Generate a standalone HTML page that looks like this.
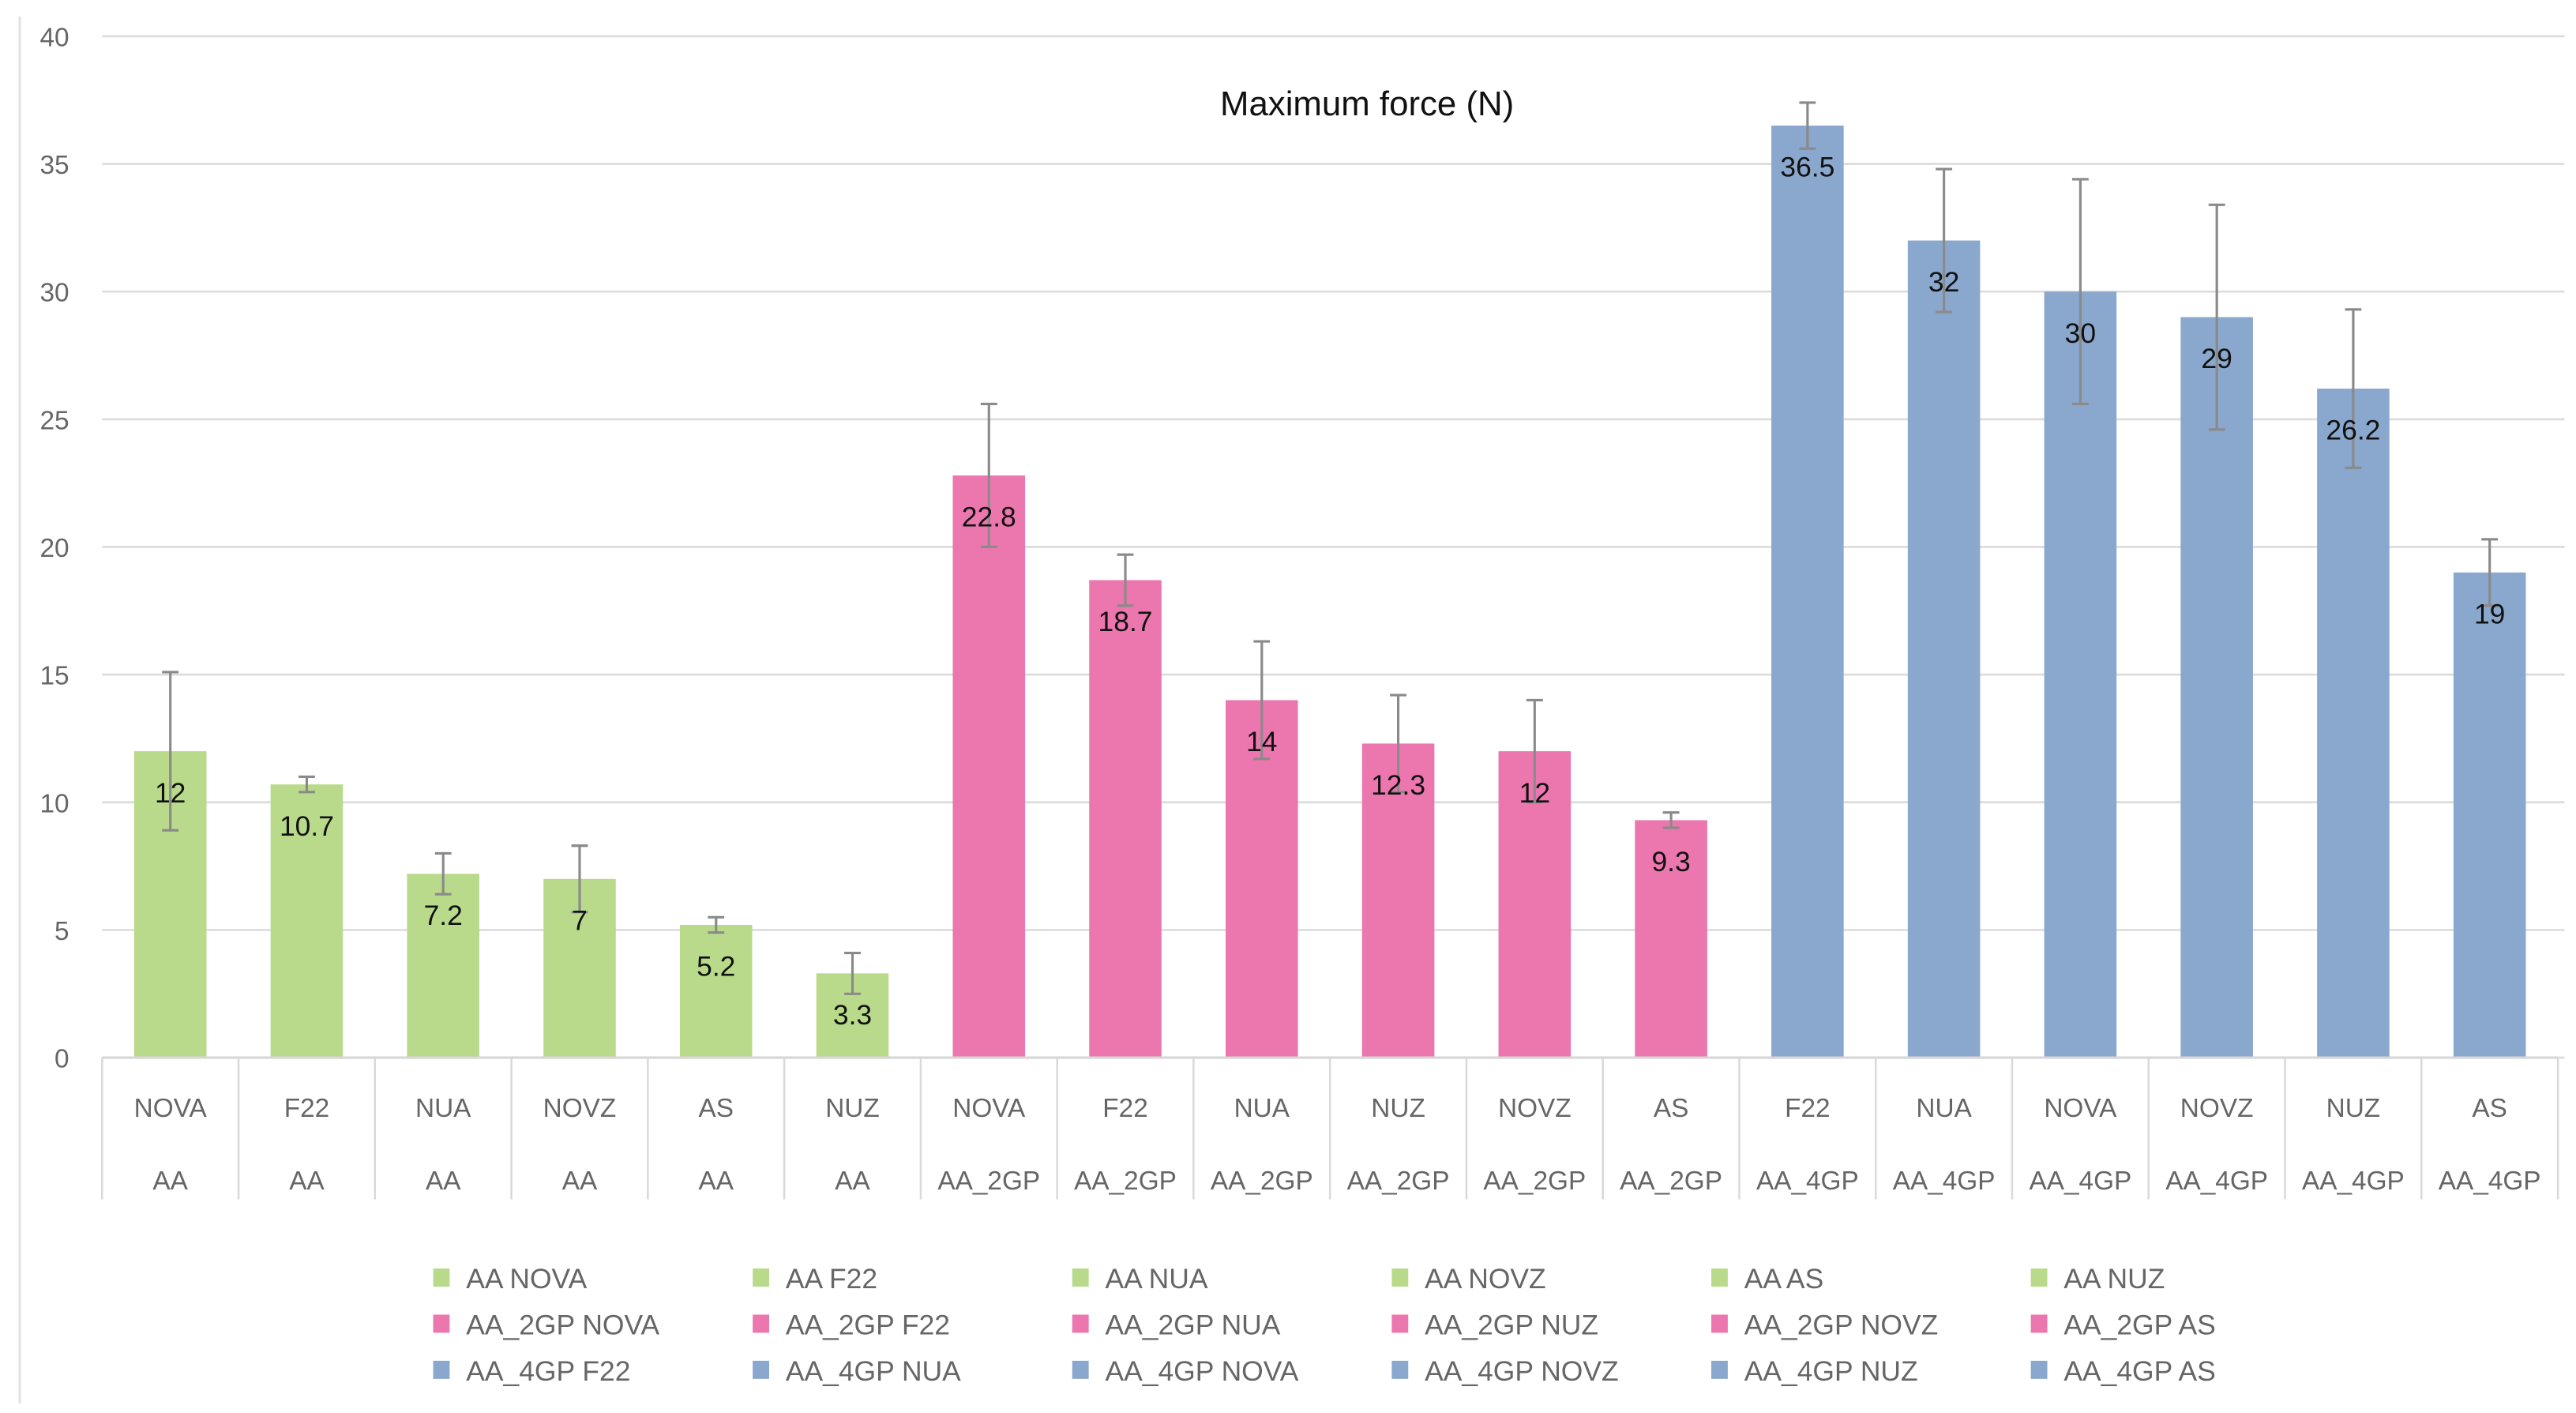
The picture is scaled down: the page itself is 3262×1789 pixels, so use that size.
<!DOCTYPE html>
<html><head><meta charset="utf-8"><style>
html,body{margin:0;padding:0;background:#fff;}
svg{display:block;}
text{font-family:"Liberation Sans",sans-serif;}
</style></head><body>
<svg id="chart" width="3262" height="1789" viewBox="0 0 1564 857.7" preserveAspectRatio="none" xmlns="http://www.w3.org/2000/svg">
<rect x="0" y="0" width="1564" height="858" fill="#fff"/>
<line x1="12" y1="10" x2="12" y2="852" stroke="#e3e3e3" stroke-width="1.5"/>
<text x="830" y="70" text-anchor="middle" font-size="21" fill="#111">Maximum force (N)</text>
<g id="grid"></g><g id="bars"></g><g id="xaxis"></g><g id="legend"></g>
</svg>
<script>
const cats = ["NOVA","F22","NUA","NOVZ","AS","NUZ","NOVA","F22","NUA","NUZ","NOVZ","AS","F22","NUA","NOVA","NOVZ","NUZ","AS"];
const groups = ["AA","AA","AA","AA","AA","AA","AA_2GP","AA_2GP","AA_2GP","AA_2GP","AA_2GP","AA_2GP","AA_4GP","AA_4GP","AA_4GP","AA_4GP","AA_4GP","AA_4GP"];
const values = [12,10.7,7.2,7,5.2,3.3,22.8,18.7,14,12.3,12,9.3,36.5,32,30,29,26.2,19];
const errors = [3.1,0.3,0.8,1.3,0.3,0.8,2.8,1.0,2.3,1.9,2.0,0.3,0.9,2.8,4.4,4.4,3.1,1.3];
const yTicks = [0,5,10,15,20,25,30,35,40];
const colors = {"AA":"#b9da8a","AA_2GP":"#ec76ae","AA_4GP":"#8aa7cd"};
const NS="http://www.w3.org/2000/svg";
const X0=62,X1=1553,Y0=642,Ytop=22,YMAX=40;
const band=(X1-X0)/cats.length;
const y=v=>Y0-(v/YMAX)*(Y0-Ytop);
const xc=i=>X0+band*(i+0.5);
function mk(tag,attrs,parent,txt){const e=document.createElementNS(NS,tag);for(const k in attrs)e.setAttribute(k,attrs[k]);if(txt!==undefined)e.textContent=txt;parent.appendChild(e);return e;}
const grid=document.getElementById('grid');
yTicks.forEach(t=>{
  const l=mk('line',{x1:X0,x2:1557,y1:y(t),y2:y(t),stroke:'#dcdcdc','stroke-width':1.3},grid);
  
  
  const tx=mk('text',{x:42,y:y(t)+6,'text-anchor':'end','font-size':16,fill:'#666'},grid,String(t));
  
  
});
const bars=document.getElementById('bars');
const bw=band*0.53;
values.forEach((v,i)=>{
  const r=mk('rect',{x:xc(i)-bw/2,y:y(v),width:bw,height:Y0-y(v),fill:colors[groups[i]]},bars);
  
  
  const e=errors[i],cx=xc(i);
  const g=mk('g',{stroke:'#8a8a8a','stroke-width':1.5},bars);
  
  
  mk('line',{x1:cx,x2:cx,y1:y(v+e),y2:y(v-e)},g);
  mk('line',{x1:cx-5,x2:cx+5,y1:y(v+e),y2:y(v+e)},g);
  mk('line',{x1:cx-5,x2:cx+5,y1:y(v-e),y2:y(v-e)},g);
  const lb=mk('text',{x:cx,y:y(v)+31,'text-anchor':'middle','font-size':17,fill:'#111'},bars,String(v));
  
  
});
const xa=document.getElementById('xaxis');
mk('line',{x1:X0,x2:X1,y1:Y0,y2:Y0,stroke:'#d6d6d6','stroke-width':1.5},xa);
for(let i=0;i<=cats.length;i++){
  const l=mk('line',{x1:X0+band*i,x2:X0+band*i,y1:Y0,y2:728,stroke:'#d9d9d9','stroke-width':1.2},xa);
  
  
}
cats.forEach((c,i)=>{
  const t1=mk('text',{x:xc(i),y:678,'text-anchor':'middle','font-size':16,fill:'#666'},xa,c);
  
  
  const t2=mk('text',{x:xc(i),y:722,'text-anchor':'middle','font-size':16,fill:'#666'},xa,groups[i]);
  
  
});
const lg=document.getElementById('legend');
cats.forEach((c,i)=>{
  const row=Math.floor(i/6),col=i%6;
  const lx=268+col*194,ly=776+row*28;
  const g=mk('g',{},lg);
  
  
  mk('rect',{x:lx-5,y:ly-6,width:10,height:11,fill:colors[groups[i]]},g);
  mk('text',{x:lx+15,y:ly+6,'font-size':17,fill:'#666'},g,groups[i]+' '+c);
});
</script>
</body></html>
